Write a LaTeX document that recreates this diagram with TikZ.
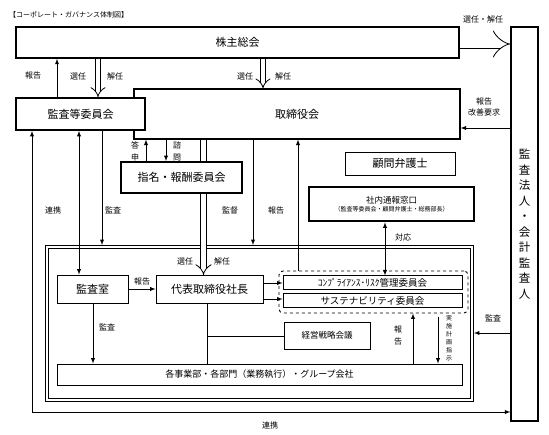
\documentclass[tikz,border=0pt]{standalone}
\usepackage{fontspec}
\setmainfont{Noto Sans CJK JP}
\usetikzlibrary{arrows.meta}

\begin{document}
\begin{tikzpicture}[x=1pt, y=-1pt,
    box/.style={draw, fill=white, inner sep=0pt, line width=0.8pt},
    big/.style={font=\fontsize{11}{13}\selectfont},
    lbl/.style={font=\fontsize{8}{12}\selectfont, inner sep=0pt, align=center},
    arr/.style={-latex, line width=0.9pt},
    dbl/.style={double, double distance=4.5pt, line width=0.8pt, -{Implies}}]
    \useasboundingbox (0,0) rectangle (549,435);

    \node[lbl, font=\fontsize{7}{8}\selectfont, anchor=west] (title) at (9,15) {【コーポレート・ガバナンス体制図】};

    \node[box, line width=1.5pt, minimum width=443, minimum height=31, big] (soukai) at (237.5,42.5) {株主総会};
    \node[box, line width=1.2pt, minimum width=27, minimum height=394, align=center, font=\fontsize{11.5}{15.5}\selectfont] (auditor) at (524.5,224) {監\\査\\法\\人\\・\\会\\計\\監\\査\\人};
    \node[box, line width=1.2pt, minimum width=326, minimum height=50, big] (board) at (297,114) {取締役会};
    \node[box, line width=1.8pt, minimum width=129, minimum height=32, big] (kansa) at (80.5,114) {監査等委員会};

    \draw[dbl, double distance=9pt] (soukai.east |- 0,44) -- (auditor.west |- 0,44);
    \node[lbl] (l1) at (483,19) {選任・解任};
    \draw[dbl] (soukai.south -| 98,0) -- (kansa.north -| 98,0);
    \draw[dbl] (soukai.south -| 263,0) -- (board.north -| 263,0);
    \draw[arr] (kansa.north -| 57,0) -- (soukai.south -| 57,0);
    \node[lbl] (l2) at (33,76) {報告};
    \node[lbl] (l3) at (78,76) {選任};
    \node[lbl] (l4) at (115,76) {解任};
    \node[lbl] (l5) at (245,76) {選任};
    \node[lbl] (l6) at (283,76) {解任};

    \draw[arr] (auditor.west |- 0,128) -- (board.east |- 0,128);
    \node[lbl, font=\fontsize{8}{11}\selectfont] (l7) at (484,106.5) {報告\\改善要求};

    \node[draw, double, double distance=2.5pt, line width=0.7pt, minimum width=425, minimum height=153, inner sep=0pt] (frame) at (259.5,323.5) {};

    \draw[dbl, double distance=5pt] (board.south -| 203.5,0) -- (203.5,275);
    \node[box, line width=1.8pt, minimum width=121, minimum height=31, big] (nomi) at (181.5,177.5) {指名・報酬委員会};
    \draw[arr] (nomi.north -| 146,0) -- (board.south -| 146,0);
    \draw[arr] (board.south -| 166,0) -- (nomi.north -| 166,0);
    \node[lbl] (l8) at (135,151) {答\\申};
    \node[lbl] (l9) at (177,151) {諮\\問};

    \node[box, minimum width=110, minimum height=23, big] (lawyer) at (400,163.5) {顧問弁護士};
    \node[box, line width=2.6pt, minimum width=165, minimum height=34, align=center, font=\fontsize{8.5}{9}\selectfont] (hotline) at (391.5,204) {社内通報窓口\\[-1pt]{\fontsize{6}{7}\selectfont （監査等委員会・顧問弁護士・総務部長）}};

    \node[box, minimum width=71, minimum height=28, big] (shitsu) at (92.5,289) {監査室};
    \node[box, minimum width=107, minimum height=28, big] (ceo) at (209.5,289) {代表取締役社長};
    \node[lbl] (l10) at (185,261) {選任};
    \node[lbl] (l11) at (222,261) {解任};

    \node[draw, dashed, rounded corners=4pt, line width=0.9pt, minimum width=189, minimum height=42, inner sep=0pt] (grp) at (373.5,292) {};
    \node[box, line width=1pt, minimum width=179, minimum height=14, font=\fontsize{9.5}{10}\selectfont] (comp) at (372.5,283) {ｺﾝﾌﾟﾗｲｱﾝｽ･ﾘｽｸ管理委員会};
    \node[box, line width=1pt, minimum width=179, minimum height=14, font=\fontsize{9.5}{10}\selectfont] (sust) at (372.5,301) {サステナビリティ委員会};
    \node[box, minimum width=86, minimum height=27, font=\fontsize{8.5}{9}\selectfont] (senryaku) at (327,335.5) {経営戦略会議};
    \node[box, minimum width=405, minimum height=21, font=\fontsize{9}{10}\selectfont] (jigyo) at (259.5,374.5) {各事業部・各部門（業務執行）・グループ会社};

    \draw[arr, shorten >=1.6pt] (board.south -| 253,0) -- (frame.north -| 253,0);
    \node[lbl] (l12) at (230,210) {監督};
    \draw[arr] (grp.north -| 298,0) -- (board.south -| 298,0);
    \node[lbl] (l13) at (276,210) {報告};
    \draw[arr, shorten >=1.6pt] (kansa.south -| 102,0) -- (frame.north -| 102,0);
    \node[lbl] (l14) at (113,210) {監査};
    \draw[latex-latex, line width=0.9pt] (kansa.south -| 79,0) -- (shitsu.north -| 79,0);
    \draw[latex-latex, line width=0.9pt] (kansa.south -| 32,0) |- (auditor.west |- 0,412);
    \node[lbl] (l15) at (53,210) {連携};
    \node[lbl] (l16) at (270,425) {連携};

    \draw[arr] (shitsu.east) -- (ceo.west);
    \node[lbl] (l17) at (142,281) {報告};
    \draw[arr] (shitsu.south -| 93,0) -- (jigyo.north -| 93,0);
    \node[lbl] (l18) at (107,327) {監査};
    \draw[line width=0.9pt] (ceo.south -| 207,0) -- (jigyo.north -| 207,0);
    \draw[line width=0.9pt] (207,336) -- (senryaku.west |- 0,336);
    \draw[arr] (ceo.east |- comp.west) -- (comp.west);
    \draw[arr] (ceo.east |- 0,299) -- (sust.west |- 0,299);

    \draw[latex-latex, line width=0.9pt] (hotline.south -| 385,0) -- (comp.north -| 385,0);
    \node[lbl] (l19) at (403,237) {対応};
    \draw[arr] (jigyo.north -| 413,0) -- (grp.south -| 413,0);
    \node[lbl] (l20) at (398,336) {報\\告};
    \draw[arr] (438,317) -- (jigyo.north -| 438,0);
    \node[lbl, font=\fontsize{6}{8}\selectfont] (l21) at (449,338) {実\\施\\計\\画\\指\\示};
    \draw[arr, shorten >=1.6pt] (auditor.west |- 0,333) -- (frame.east |- 0,333);
    \node[lbl] (l22) at (493,318) {監査};
\end{tikzpicture}
\end{document}
